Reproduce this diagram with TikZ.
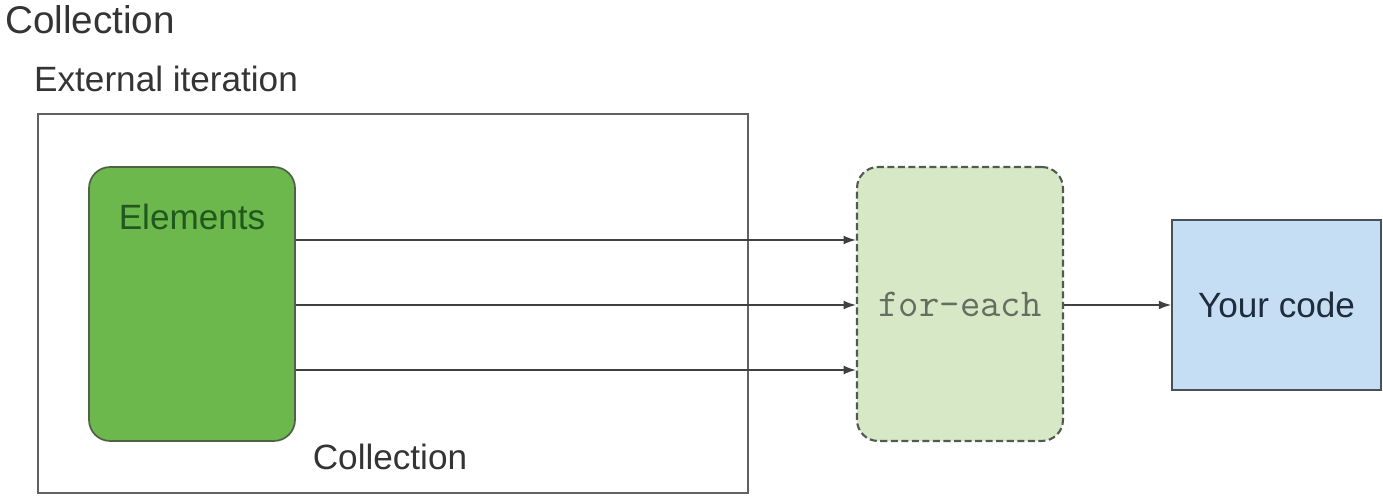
\documentclass[tikz,border=0pt]{standalone}
\usepackage{fontspec}
\setmainfont{Liberation Sans}
\usetikzlibrary{arrows.meta}
\definecolor{elemgreen}{RGB}{108,184,76}
\definecolor{elemline}{RGB}{78,100,72}
\definecolor{elemtext}{RGB}{32,88,30}
\definecolor{eachgreen}{RGB}{214,232,198}
\definecolor{eachline}{RGB}{80,90,80}
\definecolor{eachtext}{RGB}{100,110,96}
\definecolor{codeblue}{RGB}{198,222,243}
\definecolor{codeline}{RGB}{72,80,88}
\definecolor{codetext}{RGB}{30,44,60}
\definecolor{txtgray}{RGB}{52,52,52}
\begin{document}
\begin{tikzpicture}[x=0.02cm,y=-0.02cm,
  every node/.style={text=txtgray,font=\fontsize{20}{24}\selectfont},
  box/.style={draw,line width=1pt,inner sep=0pt},
  flow/.style={line width=0.8pt,color=black!75,-{Latex[length=7pt,width=5pt]}}]
\useasboundingbox (0,0) rectangle (1383,496);

\node[anchor=west,font=\fontsize{22}{26}\selectfont] (title) at (-1,20) {Collection};
\node[anchor=west] (ext) at (28,79) {External iteration};

\draw[draw=black!62,line width=1pt] (38,114) rectangle (748,493);
\node (coll) at (390,457) {Collection};

\node[box,draw=elemline,fill=elemgreen,rounded corners=12pt,minimum width=4.12cm,minimum height=5.48cm] (elems) at (192,304) {};
\node[text=elemtext] (elemlbl) at (192,217) {Elements};

\node[box,draw=eachline,line width=1.2pt,dash pattern=on 4pt off 2pt,fill=eachgreen,rounded corners=12pt,minimum width=4.12cm,minimum height=5.48cm,text=eachtext,font=\fontsize{22.5}{26}\ttfamily] (foreach) at (960,304) {for-each};

\node[box,draw=codeline,fill=codeblue,minimum width=4.18cm,minimum height=3.4cm,text=codetext] (code) at (1276.5,305) {Your code};

\foreach \y in {240,305,370}
  \draw[flow] (elems.east |- 0,\y) -- (foreach.west |- 0,\y);
\draw[flow] (foreach.east |- 0,305) -- (code.west);
\end{tikzpicture}
\end{document}
